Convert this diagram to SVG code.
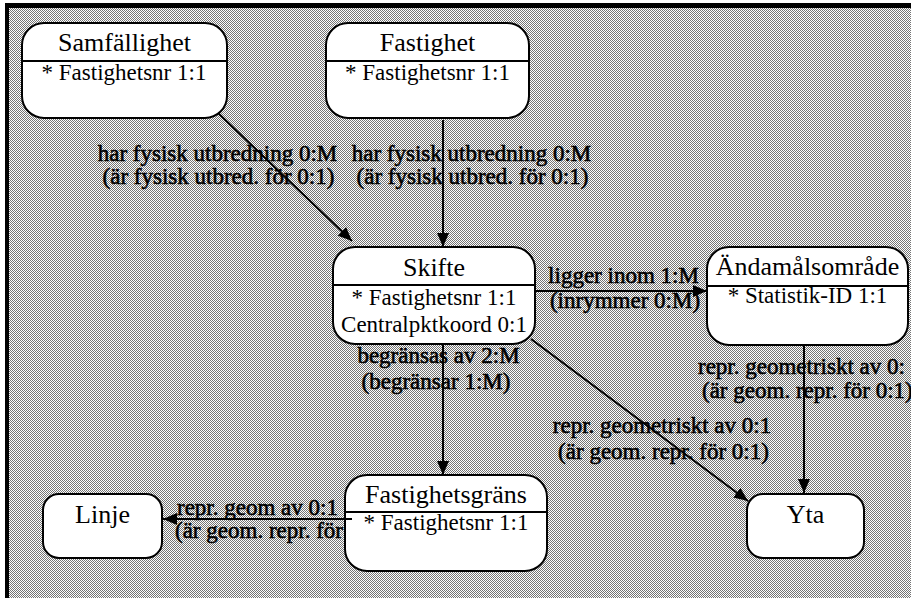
<svg xmlns="http://www.w3.org/2000/svg" width="911" height="598" viewBox="0 0 911 598" font-family="'Liberation Serif', 'DejaVu Serif', 'Times New Roman', serif">
  <style>
    text { font-family: 'Liberation Serif', 'DejaVu Serif', 'Times New Roman', serif; fill: #000000; }
    .box { fill: #ffffff; stroke: #000000; stroke-width: 2; }
    .div { stroke: #000000; stroke-width: 2; }
    .title { font-size: 26px; text-anchor: middle; }
    .attr { font-size: 23px; text-anchor: middle; }
    .lbl { font-size: 23px; stroke: #000000; stroke-width: 0.6; }
    .mid { text-anchor: middle; }
    .conn { stroke: #000000; stroke-width: 2; fill: none; marker-end: url(#arrow); }
  </style>
  <defs>
    <!-- halftone screen used for the sheet background -->
    <pattern id="screen" x="0" y="0" width="2" height="2" patternUnits="userSpaceOnUse">
      <rect x="0" y="0" width="2" height="2" fill="#fdfdfd"/>
      <rect x="0" y="0" width="1" height="1" fill="#747474"/>
      <rect x="1" y="1" width="1" height="1" fill="#747474"/>
    </pattern>
    <marker id="arrow" markerUnits="userSpaceOnUse" markerWidth="15" markerHeight="12" refX="14" refY="6" orient="auto">
      <path d="M0,0 L14,6 L0,12 z" fill="#000000"/>
    </marker>
  </defs>

  <!-- sheet -->
  <rect x="0" y="0" width="911" height="598" fill="#ffffff"/>
  <rect x="9" y="8" width="902" height="590" fill="url(#screen)"/>
  <rect x="5" y="3" width="906" height="5" fill="#000000"/>
  <rect x="5" y="3" width="4" height="595" fill="#000000"/>

  <!-- relationship labels -->
  <g id="labels">
    <text class="lbl mid" x="217.5" y="161">har fysisk utbredning 0:M</text>
    <text class="lbl mid" x="218.5" y="184">(är fysisk utbred. för 0:1)</text>
    <text class="lbl mid" x="471.5" y="161">har fysisk utbredning 0:M</text>
    <text class="lbl mid" x="472.5" y="184">(är fysisk utbred. för 0:1)</text>
    <text class="lbl mid" x="623.5" y="283">ligger inom 1:M</text>
    <text class="lbl mid" x="625" y="308">(inrymmer 0:M)</text>
    <text class="lbl" x="698" y="374">repr. geometriskt av 0:</text>
    <text class="lbl" x="702" y="398">(är geom. repr. för 0:1)</text>
    <text class="lbl mid" x="438.5" y="363">begränsas av 2:M</text>
    <text class="lbl mid" x="436" y="389">(begränsar 1:M)</text>
    <text class="lbl mid" x="662" y="433">repr. geometriskt av 0:1</text>
    <text class="lbl mid" x="663.5" y="459">(är geom. repr. för 0:1)</text>
    <text class="lbl" x="177" y="515">repr. geom av 0:1</text>
    <text class="lbl" x="175" y="538">(är geom. repr. för</text>
  </g>

  <g id="samfallighet">
    <rect class="box" x="22" y="23" width="205" height="95" rx="22" ry="22"/>
    <line class="div" x1="22" y1="61" x2="227" y2="61"/>
    <text class="title" x="124.5" y="51">Samfällighet</text>
    <text class="attr" x="124" y="80">* Fastighetsnr 1:1</text>
  </g>

  <g id="fastighet">
    <rect class="box" x="326" y="23" width="203" height="95" rx="22" ry="22"/>
    <line class="div" x1="326" y1="61" x2="529" y2="61"/>
    <text class="title" x="427.5" y="51">Fastighet</text>
    <text class="attr" x="427.5" y="80">* Fastighetsnr 1:1</text>
  </g>

  <g id="skifte">
    <rect class="box" x="333" y="247" width="202" height="97" rx="22" ry="22"/>
    <line class="div" x1="333" y1="285" x2="535" y2="285"/>
    <text class="title" x="434" y="276">Skifte</text>
    <text class="attr" x="434" y="305">* Fastighetsnr 1:1</text>
    <text class="attr" x="434" y="332">Centralpktkoord 0:1</text>
  </g>

  <g id="andamalsomrade">
    <rect class="box" x="707" y="247" width="201" height="98" rx="22" ry="22"/>
    <line class="div" x1="707" y1="286" x2="908" y2="286"/>
    <text class="title" x="807.5" y="275">Ändamålsområde</text>
    <text class="attr" x="807.5" y="303">* Statistik-ID 1:1</text>
  </g>

  <g id="fastighetsgrans">
    <rect class="box" x="345" y="475" width="202" height="96" rx="22" ry="22"/>
    <line class="div" x1="345" y1="512" x2="547" y2="512"/>
    <text class="title" x="446" y="503">Fastighetsgräns</text>
    <text class="attr" x="446" y="530">* Fastighetsnr 1:1</text>
  </g>

  <g id="linje">
    <rect class="box" x="43" y="494" width="119" height="64" rx="16" ry="16"/>
    <text class="title" x="102.5" y="523">Linje</text>
  </g>

  <g id="yta">
    <rect class="box" x="747" y="494" width="117" height="64" rx="16" ry="16"/>
    <text class="title" x="805.5" y="523">Yta</text>
  </g>

  <g id="connectors">
    <line class="conn" x1="218" y1="113" x2="352" y2="241"/>
    <line class="conn" x1="443" y1="120" x2="443" y2="247"/>
    <line class="conn" x1="535" y1="291" x2="707" y2="291"/>
    <line class="conn" x1="443" y1="344" x2="443" y2="475"/>
    <line class="conn" x1="531" y1="339" x2="748" y2="501"/>
    <line class="conn" x1="804" y1="345" x2="804" y2="493"/>
    <line class="conn" x1="352" y1="519" x2="163" y2="519"/>
  </g>
</svg>
